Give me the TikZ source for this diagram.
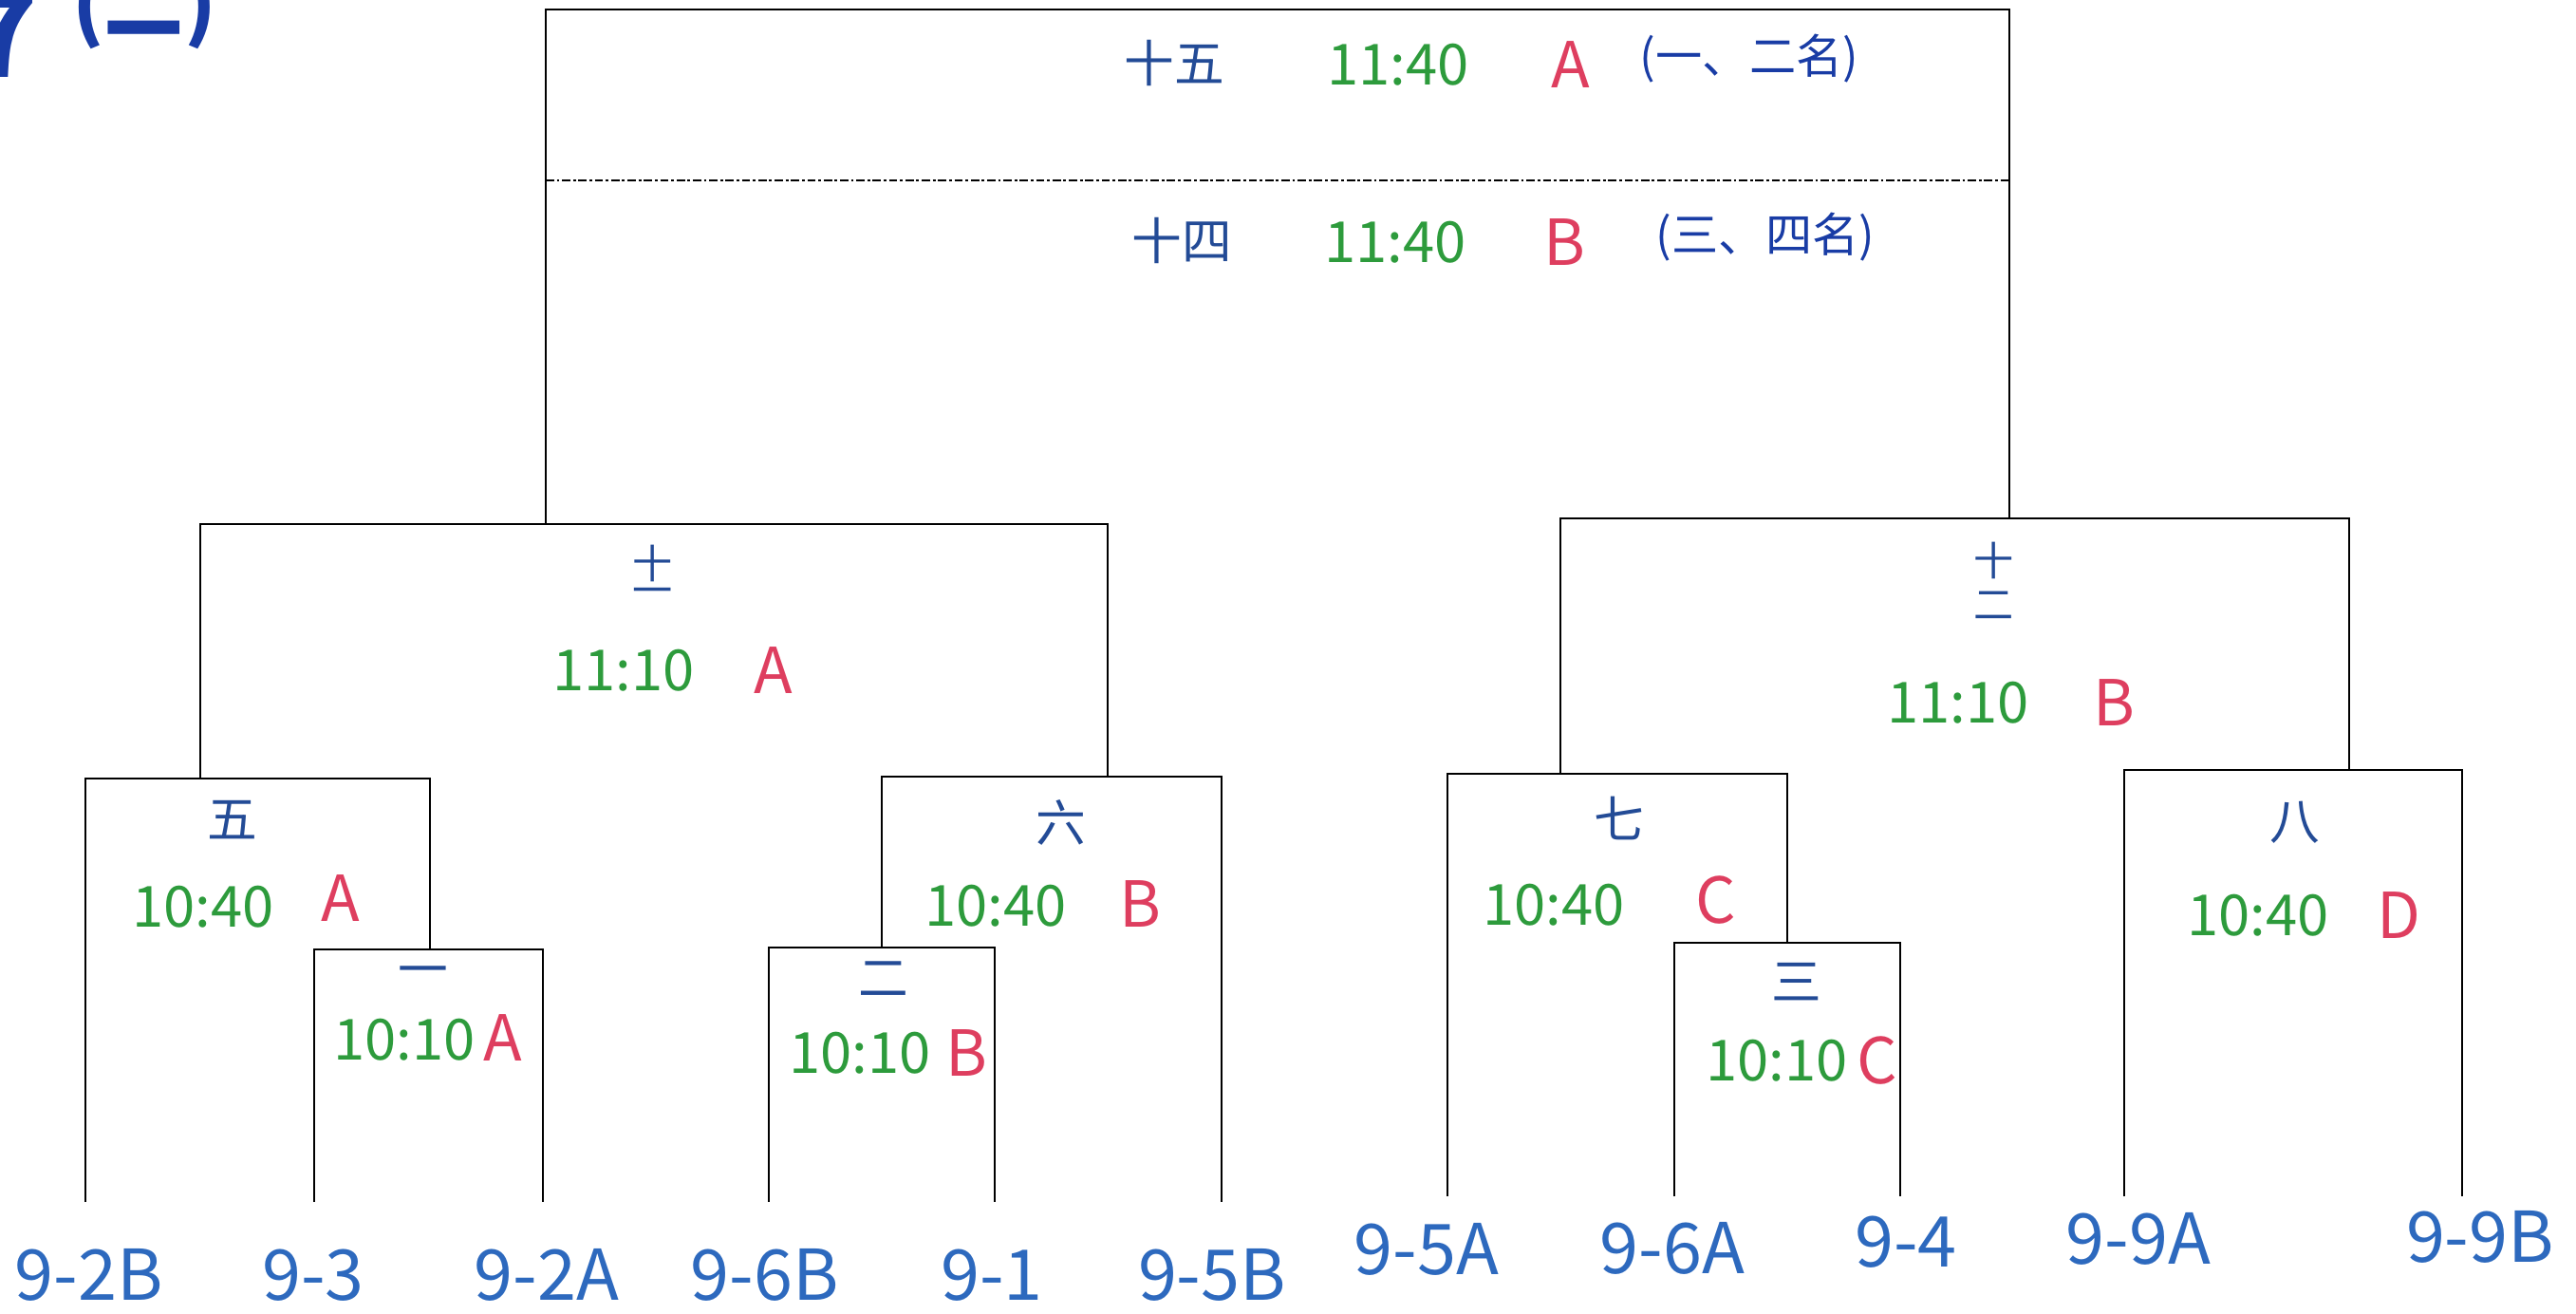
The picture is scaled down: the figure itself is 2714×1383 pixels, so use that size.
\documentclass[tikz,border=0pt]{standalone}
\usepackage{fontspec}
\newfontfamily\cjk{Noto Sans CJK SC}
\definecolor{numblue}{RGB}{35,75,150}
\definecolor{leafblue}{RGB}{45,105,190}
\definecolor{timegreen}{RGB}{45,155,60}
\definecolor{teamred}{RGB}{222,62,95}
\definecolor{headblue}{RGB}{25,60,165}
\begin{document}
\begin{tikzpicture}[x=0.1mm,y=-0.1mm,line width=0.8pt,
  rnd/.style={font=\cjk\fontsize{15}{15}\selectfont,text=numblue,inner sep=0pt},
  stack/.style={font=\cjk\fontsize{12}{#1}\selectfont,text=numblue,inner sep=0pt,align=center},
  tm/.style={font=\cjk\fontsize{17}{17}\selectfont,text=timegreen,inner sep=0pt},
  grp/.style={font=\cjk\fontsize{19}{19}\selectfont,text=teamred,inner sep=0pt},
  rank/.style={font=\cjk\fontsize{14}{14}\selectfont,text=headblue,inner sep=0pt},
  leaf/.style={font=\cjk\fontsize{21}{21}\selectfont,text=leafblue,inner sep=0pt}]

  \useasboundingbox (0,0) rectangle (2714,1383);

  \def\footL{1266}
  \def\footR{1260}
  % --- leaf lines end here, names below them ---
  \foreach \i/\x/\lx/\name in {%
    1/90/94/9-2B, 2/331/330/9-3, 3/572/576/9-2A,
    4/810/806/9-6B, 5/1048/1045/9-1, 6/1287/1277/9-5B}
  {
    \coordinate (t\i) at (\x,\footL);
    \node[leaf] (n\i) at (\lx,1343) {\name};
  }
  \foreach \i/\x/\lx/\ly/\name in {%
    7/1525/1503/1316/9-5A, 8/1764/1762/1315/9-6A, 9/2002/2008/1308/9-4,
    10/2238/2253/1305/9-9A, 11/2594/2613/1303/9-9B}
  {
    \coordinate (t\i) at (\x,\footR);
    \node[leaf] (n\i) at (\lx,\ly) {\name};
  }

  % --- where each match joins the next round ---
  \coordinate (m1) at (453,1000);
  \coordinate (m2) at (929,998);
  \coordinate (m3) at (1883,993);
  \coordinate (m5) at (211,820);
  \coordinate (m6) at (1167,818);
  \coordinate (m7) at (1644,815);
  \coordinate (m8) at (2475,811);
  \coordinate (m11) at (575,552);
  \coordinate (m12) at (2117,546);
  \coordinate (m15) at (1346,10);

  % --- brackets ---
  \draw (t2) |- (m1) -| (t3);
  \draw (t1) |- (m5) -| (m1);
  \draw (t4) |- (m2) -| (t5);
  \draw (m2) |- (m6) -| (t6);
  \draw (m5) |- (m11) -| (m6);
  \draw (t8) |- (m3) -| (t9);
  \draw (t7) |- (m7) -| (m3);
  \draw (t10) |- (m8) -| (t11);
  \draw (m7) |- (m12) -| (m8);
  \draw (m11) |- (m15) -| (m12);

  % final and third place share the top box
  \coordinate (sepL) at (575,190);
  \coordinate (sepR) at (2117,190);
  \draw[line width=0.6pt,dash pattern=on 2.5pt off 0.8pt on 0.8pt off 0.8pt] (sepL) -- (sepR);

  % --- match labels: round, time, group ---
  \node[rnd] (r15) at (1237,66) {十五};
  \node[tm]  (s15) at (1473,68) {11:40};
  \node[grp] (g15) at (1655,68) {A};
  \node[rank] (p15) at (1843,62) {(一、二名)};
  \node[rnd] (r14) at (1245,253) {十四};
  \node[tm]  (s14) at (1470,255) {11:40};
  \node[grp] (g14) at (1648,255) {B};
  \node[rank] (p14) at (1860,250) {(三、四名)};

  \node[stack=8] (r11) at (688,606) {十\\一};
  \node[tm]  (s11) at (657,706) {11:10};
  \node[grp] (g11) at (815,706) {A};
  \node[stack=13] (r12) at (2101,612) {十\\二};
  \node[tm]  (s12) at (2063,740) {11:10};
  \node[grp] (g12) at (2227,740) {B};

  \foreach \n/\t/\rx/\ry/\sx/\sy/\gx/\gy/\g in {%
    5/五/245/864/214/955/359/946/A,
    1/一/446/1029/426/1095/530/1093/A,
    6/六/1118/866/1049/954/1201/952/B,
    2/二/931/1031/906/1109/1018/1109/B,
    7/七/1706/862/1637/953/1808/948/C,
    3/三/1893/1034/1872/1117/1978/1117/C,
    8/八/2418/866/2379/964/2527/964/D}
  {
    \node[rnd] (r\n) at (\rx,\ry) {\t};
    \node[grp] (g\n) at (\gx,\gy) {\g};
  }
  \node[tm] (s5) at (214,955) {10:40};
  \node[tm] (s1) at (426,1095) {10:10};
  \node[tm] (s6) at (1049,954) {10:40};
  \node[tm] (s2) at (906,1109) {10:10};
  \node[tm] (s7) at (1637,953) {10:40};
  \node[tm] (s3) at (1872,1117) {10:10};
  \node[tm] (s8) at (2379,964) {10:40};

  % --- heading, cut by the top edge ---
  \node[font=\cjk\bfseries\fontsize{36}{36}\selectfont,text=headblue,inner sep=0pt] (pg) at (2,36) {7};
  \node[font=\cjk\bfseries\fontsize{24}{24}\selectfont,text=headblue,inner sep=0pt] (sec) at (152,8) {(二)};

\end{tikzpicture}
\end{document}
